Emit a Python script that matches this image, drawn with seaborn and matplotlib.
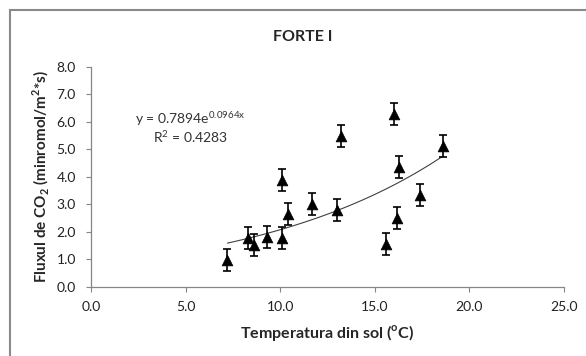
import numpy as np
import pandas as pd
import matplotlib
matplotlib.use("Agg")
import matplotlib.pyplot as plt
import seaborn as sns
from matplotlib.patches import Rectangle

# Data
temperature = [7.2, 8.3, 8.6, 9.3, 10.1, 10.1, 10.4, 11.7, 13.0, 13.2, 15.6, 16.0, 16.2, 16.3, 17.4, 18.6]
co2_flux = [0.95, 1.75, 1.50, 1.82, 3.87, 1.75, 2.64, 3.00, 2.77, 5.47, 1.54, 6.28, 2.48, 4.35, 3.33, 5.12]
error = [0.4] * 16
trend_a = 0.7894
trend_b = 0.0964
x_ticks = [0, 5, 10, 15, 20, 25]
y_ticks = [0, 1, 2, 3, 4, 5, 6, 7, 8]

df = pd.DataFrame({"t": temperature, "f": co2_flux, "e": error})

sns.set_style("ticks")
plt.rcParams["font.family"] = ["Lato", "DejaVu Sans"]
plt.rcParams["mathtext.fontset"] = "custom"
plt.rcParams["mathtext.rm"] = "Lato"
plt.rcParams["mathtext.bf"] = "Lato:bold"

fig = plt.figure(figsize=(5.86, 3.56), dpi=100)
ax = fig.add_axes([0.156, 0.195, 0.806, 0.618])

# trendline
xs = np.linspace(min(temperature), max(temperature), 100)
ax.plot(xs, trend_a * np.exp(trend_b * xs), color="#404040", lw=0.8, zorder=1)

ax.errorbar(df["t"], df["f"], yerr=df["e"], fmt="none", ecolor="black",
            elinewidth=1.2, capsize=3, capthick=1.2, zorder=2)
sns.scatterplot(data=df, x="t", y="f", marker="^", s=60, color="black",
                edgecolor="black", linewidth=0.5, ax=ax, zorder=3, legend=False)

ax.set_xlim(0, 25)
ax.set_ylim(0, 8)
ax.set_xticks(x_ticks)
ax.set_yticks(y_ticks)
ax.set_xticklabels([f"{v:.1f}" for v in x_ticks], fontsize=10, color="#222222")
ax.set_yticklabels([f"{v:.1f}" for v in y_ticks], fontsize=10, color="#222222")
ax.tick_params(axis="both", direction="out", length=3.6, width=0.8, color="#868686")
ax.tick_params(axis="x", pad=6.5)
ax.tick_params(axis="y", pad=7.5)

for s in ["top", "right"]:
    ax.spines[s].set_visible(False)
for s in ["left", "bottom"]:
    ax.spines[s].set_color("#868686")
    ax.spines[s].set_linewidth(0.9)

ax.set_xlabel(r"Temperatura din sol ($^\mathregular{o}$C)", fontsize=11.5, fontweight="bold", va="center")
ax.set_ylabel(r"Fluxul de CO$_\mathbf{2}$ (minromol/m$^\mathbf{2}$*s)", fontsize=11, fontweight="bold", va="center")
ax.xaxis.set_label_coords(0.5, -0.21)
ax.yaxis.set_label_coords(-0.108, 0.5)

fig.text(0.517, 0.895, "FORTE I", ha="center", va="center", fontsize=11.5, fontweight="bold")

ax.text(190 / 586, 1 - 119 / 356, r"y = 0.7894e$^{\mathregular{0.0964x}}$", transform=fig.transFigure,
        ha="center", va="center", fontsize=10, color="#333333")
ax.text(190 / 586, 1 - 137 / 356, r"R$^\mathregular{2}$ = 0.4283", transform=fig.transFigure,
        ha="center", va="center", fontsize=10, color="#333333")

fig.patches.append(Rectangle((10 / 586, -0.1), 1.2, 1 - 10 / 356 + 0.1, transform=fig.transFigure,
                             fill=False, edgecolor="#8a8a8a", lw=1.5))

fig.savefig("out.png", dpi=100)
